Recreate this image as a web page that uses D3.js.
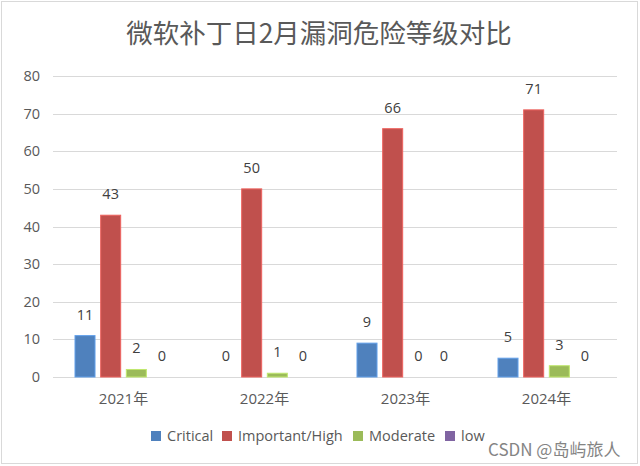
<!DOCTYPE html>
<html><head><meta charset="utf-8">
<script src="https://cdn.jsdelivr.net/npm/d3@7/dist/d3.min.js"></script>
<style>body{margin:0;background:#fff}svg{display:block}</style>
</head><body>
<svg id="c" width="640" height="466"></svg>
<script>
const categories = ["2021年","2022年","2023年","2024年"];
const seriesNames = ["Critical","Important/High","Moderate","low"];
const critical = [11,0,9,5];
const important = [43,50,66,71];
const moderate = [2,1,0,3];
const low = [0,0,0,0];
const yTicks = [0,10,20,30,40,50,60,70,80];
const colors = ["#4f81bd","#c0504d","#9bbb59","#8064a2"];
const title = "微软补丁日2月漏洞危险等级对比";

(function(){
const series = [critical, important, moderate, low];
const svg = d3.select("#c");
const font = "'Open Sans','Noto Sans CJK SC',sans-serif";

svg.append("rect").attr("x",1.5).attr("y",1.5).attr("width",636).attr("height",462)
  .attr("fill","#fff").attr("stroke","#d9d9d9").attr("stroke-width",1);

const pLeft=53, pRight=617, pTop=76, pBottom=377;
const x0 = d3.scaleBand().domain(categories).range([pLeft,pRight]).padding(0);
const x1 = d3.scaleBand().domain(seriesNames).range([22, x0.bandwidth()-22]).paddingInner(0.22).paddingOuter(0);
const y = d3.scaleLinear().domain([0,80]).range([pBottom,pTop]);

svg.append("g").selectAll("line").data(yTicks).join("line")
  .attr("x1",pLeft).attr("x2",pRight)
  .attr("y1",d=>Math.round(y(d))+0.5).attr("y2",d=>Math.round(y(d))+0.5)
  .attr("stroke","#d9d9d9").attr("stroke-width",1);

svg.append("g").selectAll("text").data(yTicks).join("text")
  .attr("x",40).attr("y",d=>y(d)).attr("dy","0.35em").attr("text-anchor","end")
  .attr("font-family",font).attr("font-size",14.5).attr("fill","#595959").text(d=>d);

const groups = svg.append("g").selectAll("g").data(categories).join("g")
  .attr("transform",c=>`translate(${x0(c)},0)`);
groups.each(function(c,ci){
  const g=d3.select(this);
  seriesNames.forEach((s,si)=>{
    const v=series[si][ci];
    g.append("rect").attr("x",x1(s)).attr("width",x1.bandwidth())
      .attr("y",y(v)).attr("height",pBottom-y(v))
      .attr("fill",colors[si]).attr("stroke",d3.color(colors[si]).brighter(0.6)).attr("stroke-width",v>0?1:0);
    g.append("text").attr("x",x1(s)+x1.bandwidth()/2).attr("y",y(v)-16)
      .attr("text-anchor","middle").attr("font-family",font).attr("font-size",14.5)
      .attr("fill","#404040").text(v);
  });
});

svg.append("g").selectAll("text").data(categories).join("text")
  .attr("x",c=>x0(c)+x0.bandwidth()/2).attr("y",404).attr("text-anchor","middle")
  .attr("font-family",font).attr("font-size",15).attr("fill","#595959").text(c=>c);

svg.append("text").attr("x",319).attr("y",43).attr("text-anchor","middle")
  .attr("font-family","'Noto Sans CJK SC',sans-serif").attr("font-size",26.5).attr("fill","#595959").text(title);

const legendX=[151,222,353,445];
const lg=svg.append("g");
seriesNames.forEach((s,i)=>{
  lg.append("rect").attr("x",legendX[i]).attr("y",431).attr("width",10).attr("height",10).attr("fill",colors[i]);
  lg.append("text").attr("x",legendX[i]+16).attr("y",436).attr("dy","0.35em")
    .attr("font-family",font).attr("font-size",14.5).attr("fill","#595959").text(s);
});

svg.append("text").attr("x",488).attr("y",456).attr("font-family","'Noto Sans CJK SC',sans-serif")
  .attr("font-size",17).attr("fill","#777").attr("opacity",0.9).text("CSDN @岛屿旅人");
})();
</script>
</body></html>
